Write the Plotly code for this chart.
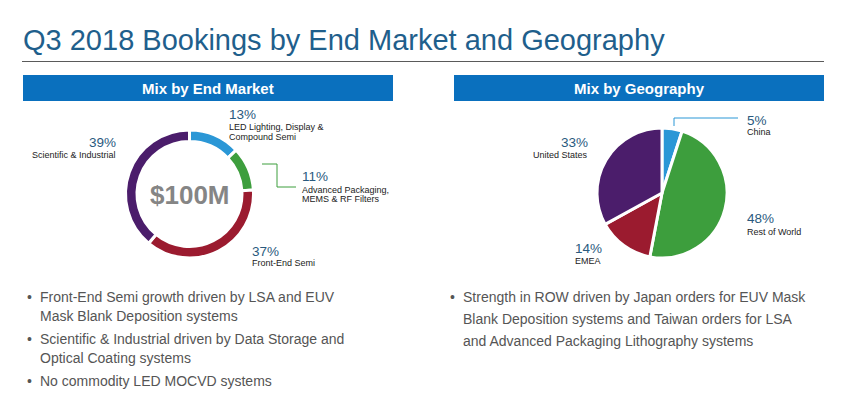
import plotly.graph_objects as go

W, H = 859, 397

# Data
end_market_labels = ["LED Lighting, Display &<br>Compound Semi", "Advanced Packaging,<br>MEMS & RF Filters",
                     "Front-End Semi", "Scientific & Industrial"]
end_market_values = [13, 11, 37, 39]
end_market_colors = ["#2b97d6", "#3d9e3d", "#9b1b2f", "#4b1d6b"]

geo_labels = ["China", "Rest of World", "EMEA", "United States"]
geo_values = [5, 48, 14, 33]
geo_colors = ["#2b97d6", "#3d9e3d", "#9b1b2f", "#4b1d6b"]

total_label = "$100M"

left_bullets = [
    ["Front-End Semi growth driven by LSA and EUV", "Mask Blank Deposition systems"],
    ["Scientific & Industrial driven by Data Storage and", "Optical Coating systems"],
    ["No commodity LED MOCVD systems"],
]
right_bullets = [
    ["Strength in ROW driven by Japan orders for EUV Mask",
     "Blank Deposition systems and Taiwan orders for LSA",
     "and Advanced Packaging Lithography systems"],
]

FONT = "Liberation Sans, Arial, sans-serif"
TITLE_C = "#1f5f8c"
PCT_C = "#2a5a7e"
LBL_C = "#222222"
BAR_C = "#0a70be"


def px(x):
    return x / W


def py(y):
    return 1 - y / H


def dom(cx, cy, r):
    return dict(x=[px(cx - r), px(cx + r)], y=[py(cy + r), py(cy - r)])


fig = go.Figure()
fig.add_trace(go.Pie(
    labels=end_market_labels, values=end_market_values, hole=0.82,
    sort=False, direction="clockwise", rotation=0,
    marker=dict(colors=end_market_colors, line=dict(color="white", width=3)),
    textinfo="none", hoverinfo="label+percent", domain=dom(189.5, 194, 64),
    showlegend=False,
))
fig.add_trace(go.Pie(
    labels=geo_labels, values=geo_values,
    sort=False, direction="clockwise", rotation=0,
    marker=dict(colors=geo_colors, line=dict(color="white", width=3)),
    textinfo="none", hoverinfo="label+percent", domain=dom(662, 193, 65),
    showlegend=False,
))

shapes = []
# title underline
shapes.append(dict(type="line", xref="paper", yref="paper", x0=px(22), x1=px(824), y0=py(61.5), y1=py(61.5),
                   line=dict(color="#5a5a5a", width=1.2)))
# header bars
shapes.append(dict(type="rect", xref="paper", yref="paper", x0=px(23), x1=px(393), y0=py(101), y1=py(75),
                   fillcolor=BAR_C, line=dict(width=0)))
shapes.append(dict(type="rect", xref="paper", yref="paper", x0=px(454), x1=px(824), y0=py(101), y1=py(75),
                   fillcolor=BAR_C, line=dict(width=0)))
# leader lines
shapes.append(dict(type="path", xref="paper", yref="paper",
                   path=f"M {px(262)} {py(164)} L {px(277)} {py(164)} L {px(277)} {py(187)} L {px(296)} {py(187)}",
                   line=dict(color="#3d9e3d", width=1)))
shapes.append(dict(type="path", xref="paper", yref="paper",
                   path=f"M {px(674)} {py(126)} L {px(674)} {py(118)} L {px(738)} {py(118)}",
                   line=dict(color="#2b97d6", width=1)))

ann = []


def text(x, y, s, size, color, anchor="left", bold=False):
    ann.append(dict(x=px(x), y=py(y), xref="paper", yref="paper", text=f"<b>{s}</b>" if bold else s,
                    showarrow=False, xanchor=anchor, yanchor="middle", align=anchor if anchor != "center" else "center",
                    font=dict(family=FONT, size=size, color=color)))


text(21, 40, "Q3 2018 Bookings by End Market and Geography", 29, TITLE_C)
text(208, 88, "Mix by End Market", 15, "white", "center", True)
text(639, 88, "Mix by Geography", 15, "white", "center", True)
text(189.5, 195, total_label, 26, "#858585", "center", True)

# donut labels
def pct(v):
    return f"{v}%"


text(227, 114, pct(end_market_values[0]), 13.5, PCT_C)
text(227, 127, "LED Lighting, Display &", 9, LBL_C)
text(227, 137, "Compound Semi", 9, LBL_C)
text(300, 176, pct(end_market_values[1]), 13.5, PCT_C)
text(300, 190, "Advanced Packaging,", 9, LBL_C)
text(300, 199, "MEMS & RF Filters", 9, LBL_C)
text(250, 251, pct(end_market_values[2]), 13.5, PCT_C)
text(250, 263, "Front-End Semi", 9, LBL_C)
text(118, 142, pct(end_market_values[3]), 13.5, PCT_C, "right")
text(118, 155, "Scientific & Industrial", 9, LBL_C, "right")

# pie labels
text(745, 120, pct(geo_values[0]), 13.5, PCT_C)
text(745, 132, "China", 9, LBL_C)
text(745, 219, pct(geo_values[1]), 13.5, PCT_C)
text(745, 232, "Rest of World", 9, LBL_C)
text(588, 248, pct(geo_values[2]), 13.5, PCT_C, "center")
text(588, 261, "EMEA", 9, LBL_C, "center")
text(590, 142, pct(geo_values[3]), 13.5, PCT_C, "right")
text(590, 155, "United States", 9, LBL_C, "right")

# bullets
BUL_C = "#555555"
y = 297
for lines in left_bullets:
    text(25, y, "•", 14, BUL_C)
    for i, ln in enumerate(lines):
        text(38, y + i * 19, ln, 14, BUL_C)
    y += 19 * len(lines) + 4

y = 297
for lines in right_bullets:
    text(448, y, "•", 14, BUL_C)
    for i, ln in enumerate(lines):
        text(461, y + i * 22, ln, 14, BUL_C)

fig.update_layout(width=W, height=H, margin=dict(l=0, r=0, t=0, b=0),
                  paper_bgcolor="white", plot_bgcolor="white",
                  shapes=shapes, annotations=ann)

fig.write_html("out.html", config={"displayModeBar": False},
               post_script="document.body.style.margin='0px';")
